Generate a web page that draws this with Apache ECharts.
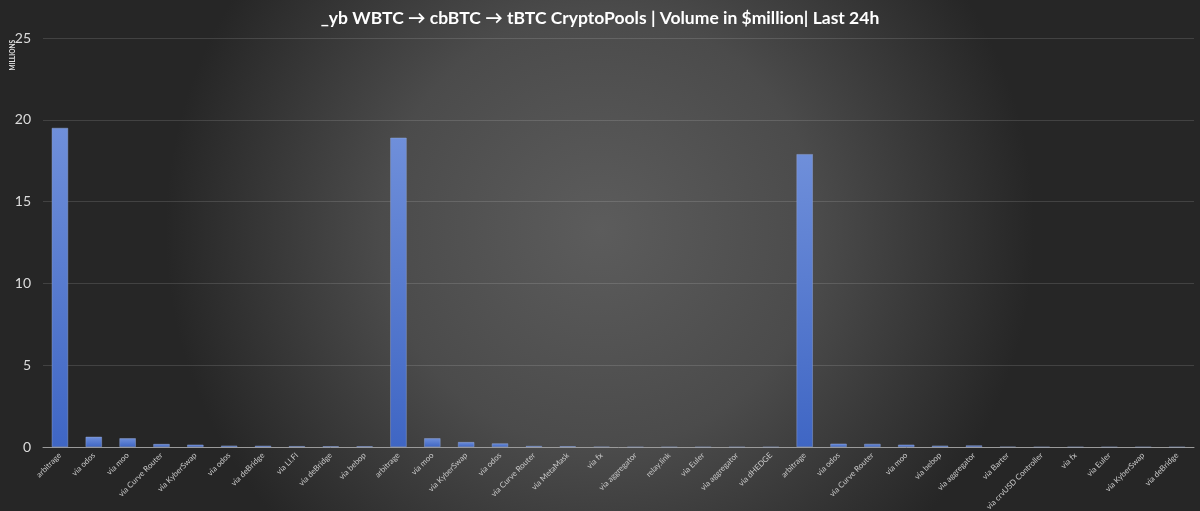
<!DOCTYPE html>
<html>
<head>
<meta charset="utf-8">
<title>WBTC cbBTC tBTC volume</title>
<script src="https://cdn.jsdelivr.net/npm/echarts@6/dist/echarts.min.js"></script>
<style>
  html, body { margin: 0; padding: 0; background: #333; }
  #chart { width: 1200px; height: 511px; }
</style>
</head>
<body>
<div id="chart"></div>
<script>
// categories (labels repeat per pool)
var categories = [
    'arbitrage', 'via odos', 'via moo', 'via Curve Router', 'via KyberSwap', 'via odos',
    'via deBridge', 'via LI.FI', 'via deBridge', 'via bebop',
    'arbitrage', 'via moo', 'via KyberSwap', 'via odos', 'via Curve Router', 'via MetaMask',
    'via fx', 'via aggregator', 'relay.link', 'via Euler', 'via aggregator', 'via dHEDGE',
    'arbitrage', 'via odos', 'via Curve Router', 'via moo', 'via bebop', 'via aggregator',
    'via Barter', 'via crvUSD Controller', 'via fx', 'via Euler', 'via KyberSwap', 'via deBridge'
];

// volume in $ million
var volumes = [
    19.5, 0.62, 0.53, 0.18, 0.14, 0.08, 0.07, 0.05, 0.04, 0.04,
    18.9, 0.53, 0.30, 0.22, 0.06, 0.04, 0.03, 0.01, 0.01, 0.01, 0.01, 0.01,
    17.9, 0.20, 0.19, 0.14, 0.08, 0.09, 0.03, 0.01, 0.01, 0.01, 0.01, 0.01
];

var yTicks = [0, 5, 10, 15, 20, 25];

var myChart = echarts.init(document.getElementById('chart'));

var option = {
    backgroundColor: {
        type: 'radial', x: 0.5, y: 0.45, r: 0.85,
        colorStops: [
            { offset: 0, color: '#5c5c5c' },
            { offset: 0.5, color: '#4b4b4b' },
            { offset: 1, color: '#262626' }
        ]
    },
    title: {
        text: '_yb WBTC \u2192 cbBTC \u2192 tBTC CryptoPools | Volume in $million| Last 24h',
        left: 'center',
        top: 4,
        textStyle: { color: '#ffffff', fontSize: 17.5, fontWeight: 'bold', fontFamily: 'Lato' }
    },
    graphic: [{
        type: 'text',
        left: 9,
        top: 40,
        rotation: Math.PI / 2,
        style: { text: 'MILLIONS', fill: '#e0e0e0', font: 'bold 6.5px Lato' }
    }],
    grid: { left: 43, right: 6, top: 38, bottom: 64, outerBoundsMode: 'none', containLabel: false },
    xAxis: {
        type: 'category',
        data: categories,
        axisLine: { lineStyle: { color: '#9a9a9a', width: 1 } },
        axisTick: { show: false },
        axisLabel: {
            color: '#c8c8c8', fontSize: 8, rotate: 45, interval: 0,
            fontFamily: 'Lato', margin: 7
        }
    },
    yAxis: {
        type: 'value',
        min: yTicks[0],
        max: yTicks[yTicks.length - 1],
        interval: 5,
        axisLine: { show: false },
        axisTick: { show: false },
        splitLine: { lineStyle: { color: 'rgba(255,255,255,0.13)', width: 1 } },
        axisLabel: { color: '#dcdcdc', fontSize: 14, fontFamily: 'Lato', margin: 12 }
    },
    series: [{
        type: 'bar',
        data: volumes,
        barCategoryGap: '52%',
        itemStyle: {
            color: {
                type: 'linear', x: 0, y: 0, x2: 0, y2: 1,
                colorStops: [
                    { offset: 0, color: '#6f8fda' },
                    { offset: 1, color: '#3f66c4' }
                ]
            },
            borderColor: 'rgba(150,170,220,0.5)',
            borderWidth: 0.5
        }
    }]
};

myChart.setOption(option);
</script>
</body>
</html>
